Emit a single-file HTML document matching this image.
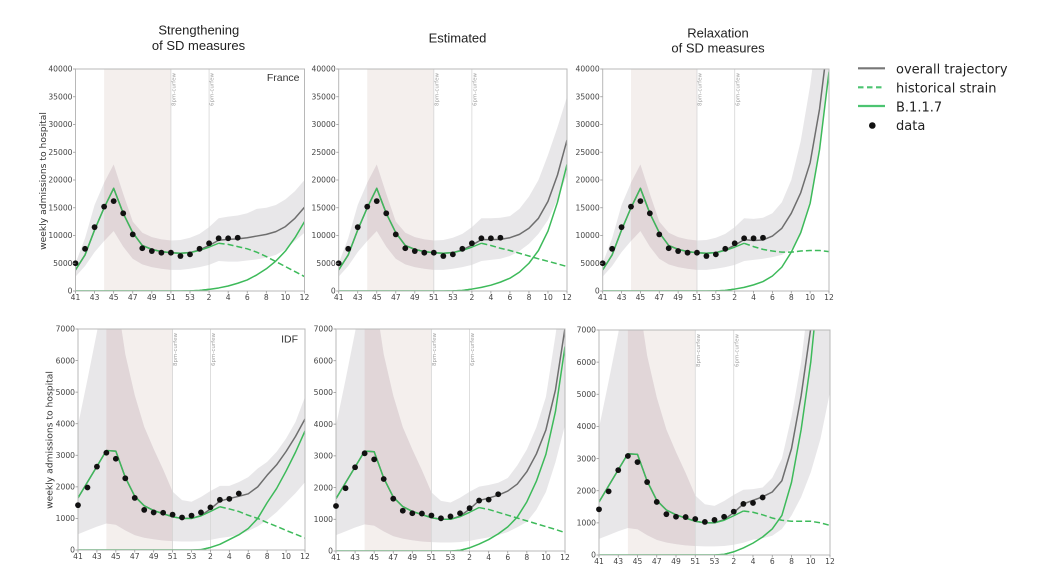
<!DOCTYPE html>
<html><head><meta charset="utf-8">
<style>
html,body{margin:0;padding:0;background:#fff;width:1060px;height:574px;overflow:hidden;}
svg{display:block;}
</style></head>
<body>
<svg id="s" width="1060" height="574" viewBox="0 0 1060 574" xmlns="http://www.w3.org/2000/svg" font-family="'DejaVu Sans', sans-serif">
<rect x="0" y="0" width="1060" height="574" fill="#fff"/>
<g id="plots"></g>

<!-- Titles -->
<g font-family="'Liberation Sans', sans-serif" font-size="13" fill="#222" text-anchor="middle">
<text x="198.8" y="34.5">Strengthening</text>
<text x="198.5" y="50">of SD measures</text>
<text x="457.5" y="42.3">Estimated</text>
<text x="718" y="37.3">Relaxation</text>
<text x="718" y="52.3">of SD measures</text>
</g>

<!-- y axis labels -->
<g font-size="9.2" fill="#333" text-anchor="middle">
<text transform="translate(46,181) rotate(-90)">weekly admissions to hospital</text>
<text transform="translate(52.5,440) rotate(-90)">weekly admissions to hospital</text>
</g>

<!-- region labels -->
<g font-family="'Liberation Sans', sans-serif" font-size="10.5" fill="#333" text-anchor="end">
<text x="299.5" y="81">France</text>
<text x="298" y="342.5">IDF</text>
</g>

<!-- curfew labels -->
<g font-size="5.5" fill="#a0a0a0" text-anchor="end">
<text transform="translate(175.5,73) rotate(-90)">8pm-curfew</text>
<text transform="translate(213.7,73) rotate(-90)">6pm-curfew</text>
<text transform="translate(438.4,73) rotate(-90)">8pm-curfew</text>
<text transform="translate(476.5,73) rotate(-90)">6pm-curfew</text>
<text transform="translate(701.6,73) rotate(-90)">8pm-curfew</text>
<text transform="translate(739.3,73) rotate(-90)">6pm-curfew</text>
<text transform="translate(177.2,333) rotate(-90)">8pm-curfew</text>
<text transform="translate(215,333) rotate(-90)">6pm-curfew</text>
<text transform="translate(436,333) rotate(-90)">8pm-curfew</text>
<text transform="translate(474.2,333) rotate(-90)">6pm-curfew</text>
<text transform="translate(699.9,334) rotate(-90)">8pm-curfew</text>
<text transform="translate(738.4,334) rotate(-90)">6pm-curfew</text>
</g>

<!-- y tick labels -->
<g font-size="7.6" fill="#444" text-anchor="end">
<text x="72.5" y="293.7">0</text><text x="72.5" y="265.95">5000</text><text x="72.5" y="238.2">10000</text><text x="72.5" y="210.45">15000</text><text x="72.5" y="182.7">20000</text><text x="72.5" y="154.95">25000</text><text x="72.5" y="127.2">30000</text><text x="72.5" y="99.45">35000</text><text x="72.5" y="71.7">40000</text>
<text x="335.7" y="293.7">0</text><text x="335.7" y="265.95">5000</text><text x="335.7" y="238.2">10000</text><text x="335.7" y="210.45">15000</text><text x="335.7" y="182.7">20000</text><text x="335.7" y="154.95">25000</text><text x="335.7" y="127.2">30000</text><text x="335.7" y="99.45">35000</text><text x="335.7" y="71.7">40000</text>
<text x="599.7" y="293.7">0</text><text x="599.7" y="265.95">5000</text><text x="599.7" y="238.2">10000</text><text x="599.7" y="210.45">15000</text><text x="599.7" y="182.7">20000</text><text x="599.7" y="154.95">25000</text><text x="599.7" y="127.2">30000</text><text x="599.7" y="99.45">35000</text><text x="599.7" y="71.7">40000</text>
<text x="75" y="552.7">0</text><text x="75" y="521.1">1000</text><text x="75" y="489.6">2000</text><text x="75" y="458">3000</text><text x="75" y="426.4">4000</text><text x="75" y="394.8">5000</text><text x="75" y="363.3">6000</text><text x="75" y="331.7">7000</text>
<text x="333" y="553.7">0</text><text x="333" y="522">1000</text><text x="333" y="490.3">2000</text><text x="333" y="458.6">3000</text><text x="333" y="426.8">4000</text><text x="333" y="395.1">5000</text><text x="333" y="363.4">6000</text><text x="333" y="331.7">7000</text>
<text x="596" y="557.7">0</text><text x="596" y="525.6">1000</text><text x="596" y="493.4">2000</text><text x="596" y="461.3">3000</text><text x="596" y="429.1">4000</text><text x="596" y="397">5000</text><text x="596" y="364.8">6000</text><text x="596" y="332.7">7000</text>
</g>

<!-- x tick labels -->
<g font-size="7.6" fill="#444" text-anchor="middle">
<text x="75.5" y="299.8">41</text><text x="94.6" y="299.8">43</text><text x="113.7" y="299.8">45</text><text x="132.75" y="299.8">47</text><text x="151.8" y="299.8">49</text><text x="170.9" y="299.8">51</text><text x="190" y="299.8">53</text><text x="209.1" y="299.8">2</text><text x="228.2" y="299.8">4</text><text x="247.25" y="299.8">6</text><text x="266.3" y="299.8">8</text><text x="285.4" y="299.8">10</text><text x="304.5" y="299.8">12</text>
<text x="338.7" y="299.8">41</text><text x="357.7" y="299.8">43</text><text x="376.8" y="299.8">45</text><text x="395.8" y="299.8">47</text><text x="414.8" y="299.8">49</text><text x="433.8" y="299.8">51</text><text x="452.9" y="299.8">53</text><text x="471.9" y="299.8">2</text><text x="490.9" y="299.8">4</text><text x="509.9" y="299.8">6</text><text x="529" y="299.8">8</text><text x="548" y="299.8">10</text><text x="567" y="299.8">12</text>
<text x="602.7" y="299.8">41</text><text x="621.6" y="299.8">43</text><text x="640.4" y="299.8">45</text><text x="659.3" y="299.8">47</text><text x="678.1" y="299.8">49</text><text x="697" y="299.8">51</text><text x="715.9" y="299.8">53</text><text x="734.7" y="299.8">2</text><text x="753.6" y="299.8">4</text><text x="772.4" y="299.8">6</text><text x="791.3" y="299.8">8</text><text x="810.1" y="299.8">10</text><text x="829" y="299.8">12</text>
<text x="78" y="558.8">41</text><text x="96.9" y="558.8">43</text><text x="115.8" y="558.8">45</text><text x="134.75" y="558.8">47</text><text x="153.7" y="558.8">49</text><text x="172.6" y="558.8">51</text><text x="191.5" y="558.8">53</text><text x="210.4" y="558.8">2</text><text x="229.3" y="558.8">4</text><text x="248.25" y="558.8">6</text><text x="267.2" y="558.8">8</text><text x="286.1" y="558.8">10</text><text x="305" y="558.8">12</text>
<text x="336" y="559.8">41</text><text x="355.1" y="559.8">43</text><text x="374.2" y="559.8">45</text><text x="393.25" y="559.8">47</text><text x="412.3" y="559.8">49</text><text x="431.4" y="559.8">51</text><text x="450.5" y="559.8">53</text><text x="469.6" y="559.8">2</text><text x="488.7" y="559.8">4</text><text x="507.75" y="559.8">6</text><text x="526.8" y="559.8">8</text><text x="545.9" y="559.8">10</text><text x="565" y="559.8">12</text>
<text x="599" y="563.8">41</text><text x="618.25" y="563.8">43</text><text x="637.5" y="563.8">45</text><text x="656.75" y="563.8">47</text><text x="676" y="563.8">49</text><text x="695.25" y="563.8">51</text><text x="714.5" y="563.8">53</text><text x="733.75" y="563.8">2</text><text x="753" y="563.8">4</text><text x="772.25" y="563.8">6</text><text x="791.5" y="563.8">8</text><text x="810.75" y="563.8">10</text><text x="830" y="563.8">12</text>
</g>

<!-- legend -->
<g>
<line x1="858" y1="68.3" x2="885" y2="68.3" stroke="#777" stroke-width="2.2"/>
<line x1="858" y1="87.3" x2="885" y2="87.3" stroke="#4cc471" stroke-width="2.2" stroke-dasharray="5.5 3.5"/>
<line x1="858" y1="106" x2="885" y2="106" stroke="#4cc471" stroke-width="2.2"/>
<circle cx="872.3" cy="125.5" r="3.3" fill="#111"/>
</g>
<g font-size="13" fill="#222">
<text x="896" y="73.5">overall trajectory</text>
<text x="896" y="92.5">historical strain</text>
<text x="896" y="111.3">B.1.1.7</text>
<text x="896" y="130">data</text>
</g>
</svg>

<script>
(function(){
var NS="http://www.w3.org/2000/svg";
var root=document.getElementById('plots');
function el(tag,attrs,parent){var e=document.createElementNS(NS,tag);for(var k in attrs)e.setAttribute(k,attrs[k]);(parent||root).appendChild(e);return e;}
function z(n){var a=[];for(var i=0;i<n;i++)a.push(0);return a;}

var FR_H=[3800,6500,11000,15000,18500,14000,10500,8200,7500,7100,6900,6800,6900,7300,7900,8600];
var FR_UP=[5000,9500,15500,19500,22800,17500,12500,10500,9700,9300,9100,9200,9600,10300,11500,13100];
var FR_LO=[2600,4500,7000,9000,10800,8000,5800,4800,4300,4000,3800,3800,4000,4300,4700,5400];
var FR_D=[5000,7600,11500,15200,16200,14000,10200,7700,7200,6900,6900,6300,6600,7600,8600,9500,9500,9600];

var ID_H=[1650,2150,2650,3150,3130,2300,1700,1400,1250,1150,1050,1000,1000,1080,1220,1370];
var ID_UP=[3950,5400,6900,8500,8200,6200,4900,3900,3200,2550,1850,1580,1530,1680,1870,2030];
var ID_LO=[500,620,740,840,800,620,470,390,340,300,280,270,270,280,320,380];
var ID_D=[1420,1980,2640,3080,2890,2270,1650,1270,1190,1180,1120,1030,1090,1190,1350,1590,1620,1790];

var panels=[
 {x0:75.5,x1:304.5,y0:69,y1:291,ym:40000,
  h:FR_H.concat([8400,8000,7600,7000,6200,5300,4400,3500,2600]),
  b:z(12).concat([30,100,300,550,900,1400,2000,2900,4000,5400,7200,9600,12500]),
  up:FR_UP.concat([13400,13600,14000,14800,15000,15500,16500,18000,20000]),
  lo:FR_LO.concat([5300,5300,5500,5700,6000,6500,7500,9000,10500]),d:FR_D},
 {x0:338.7,x1:567,y0:69,y1:291,ym:40000,
  h:FR_H.concat([8200,7700,7300,6800,6300,5800,5350,4900,4400]),
  b:z(12).concat([30,100,350,650,1050,1600,2300,3400,5000,7300,10800,16000,22800]),
  up:FR_UP.concat([13100,13200,13500,14800,17000,20000,24500,29500,35000]),
  lo:FR_LO.concat([5600,5800,6300,7200,8500,10300,12800,16500,21000]),d:FR_D},
 {x0:602.7,x1:829,y0:69,y1:291,ym:40000,
  h:FR_H.concat([8000,7500,7200,7000,7000,7200,7300,7300,7100]),
  b:z(12).concat([30,100,350,650,1100,1700,2700,4300,7000,10500,15800,25500,39500]),
  up:FR_UP.concat([13000,13200,14000,16000,20000,27000,37000,50000,65000]),
  lo:FR_LO.concat([5600,5800,6100,6500,7500,10000,16000,26000,38000]),d:FR_D},
 {x0:78,x1:305,y0:329,y1:550,ym:7000,
  h:ID_H.concat([1300,1220,1100,1000,870,750,620,500,380]),
  b:z(13).concat([10,80,180,330,480,680,1000,1500,1950,2500,3100,3770]),
  up:ID_UP.concat([2030,2150,2310,2580,2790,3110,3530,4060,4850]),
  lo:ID_LO.concat([420,480,600,750,950,1200,1500,1800,2150]),d:ID_D},
 {x0:336,x1:565,y0:329,y1:551,ym:7000,
  h:ID_H.concat([1310,1220,1130,1040,950,860,770,680,580]),
  b:z(13).concat([20,100,220,360,540,760,1070,1550,2200,3050,4400,6450]),
  up:ID_UP.concat([2080,2150,2300,2700,3200,3900,4860,6800,9000]),
  lo:ID_LO.concat([430,500,600,750,920,1300,1860,2800,3970]),d:ID_D},
 {x0:599,x1:830,y0:330,y1:555,ym:7000,
  h:ID_H.concat([1330,1250,1150,1080,1050,1050,1050,1000,920]),
  b:z(13).concat([20,100,220,370,560,810,1230,2260,3900,6000,9000,13000]),
  up:ID_UP.concat([2050,2100,2400,3000,4300,6000,8500,12000,16000]),
  lo:ID_LO.concat([480,520,600,810,1230,1800,2570,3600,5070]),d:ID_D}
];

var GREEN='#3dba5a';
panels.forEach(function(p,i){
 var X=function(w){return p.x0+(w-41)*(p.x1-p.x0)/24;};
 var Y=function(v){return p.y1-v/p.ym*(p.y1-p.y0);};
 var defs=el('defs',{});
 var cp=el('clipPath',{id:'c'+i},defs);
 el('rect',{x:p.x0,y:p.y0,width:p.x1-p.x0,height:p.y1-p.y0},cp);
 var cp2=el('clipPath',{id:'p'+i},defs);
 el('rect',{x:X(44),y:p.y0,width:X(51)-X(44),height:p.y1-p.y0},cp2);
 // pink span
 el('rect',{x:X(44),y:p.y0,width:X(51)-X(44),height:p.y1-p.y0,fill:'#f4efed'});
 var g=el('g',{'clip-path':'url(#c'+i+')'});
 // band
 var pts=[],k;
 for(k=0;k<25;k++)pts.push(X(41+k).toFixed(2)+','+Y(p.up[k]).toFixed(2));
 for(k=24;k>=0;k--)pts.push(X(41+k).toFixed(2)+','+Y(p.lo[k]).toFixed(2));
 el('polygon',{points:pts.join(' '),fill:'#e8e7e9'},g);
 var g2=el('g',{'clip-path':'url(#p'+i+')'},g);
 el('polygon',{points:pts.join(' '),fill:'#e1d6d8'},g2);
 // vertical curfew lines
 [51,55].forEach(function(w){el('line',{x1:X(w),x2:X(w),y1:p.y0,y2:p.y1,stroke:'#d6d6d6','stroke-width':0.8},g);});
 var ov=p.h.map(function(v,k){return v+p.b[k];});
 var line=function(arr,from,to){var s=[];for(var k=from;k<=to;k++)s.push(X(41+k).toFixed(2)+','+Y(arr[k]).toFixed(2));return s.join(' ');};
 el('polyline',{points:line(ov,0,24),fill:'none',stroke:'#6e6e6e','stroke-width':1.5,'stroke-linejoin':'round'},g);
 el('polyline',{points:line(p.h,0,15),fill:'none',stroke:GREEN,'stroke-width':1.4,'stroke-linejoin':'round'},g);
 el('polyline',{points:line(p.h,15,24),fill:'none',stroke:GREEN,'stroke-width':1.5,'stroke-dasharray':'6 3'},g);
 el('polyline',{points:line(p.b,0,24),fill:'none',stroke:GREEN,'stroke-width':1.5,'stroke-linejoin':'round'},g);
 // frame
 el('rect',{x:p.x0,y:p.y0,width:p.x1-p.x0,height:p.y1-p.y0,fill:'none',stroke:'#b8b8b8','stroke-width':1});
 // redraw B117 zero line over the bottom spine
 el('polyline',{points:line(p.b,0,14),fill:'none',stroke:GREEN,'stroke-width':1.3},g);
 // dots
 p.d.forEach(function(v,k){el('circle',{cx:X(41+k).toFixed(2),cy:Y(v).toFixed(2),r:2.9,fill:'#111'});});
 // ticks
 for(k=0;k<=12;k++){var x=X(41+2*k);el('line',{x1:x,x2:x,y1:p.y1,y2:p.y1+2.5,stroke:'#999','stroke-width':0.8});}
 var step=p.ym===40000?5000:1000;
 for(var v=0;v<=p.ym;v+=step){var y=Y(v);el('line',{x1:p.x0-2.5,x2:p.x0,y1:y,y2:y,stroke:'#999','stroke-width':0.8});}
});
})();
</script>
</body></html>
